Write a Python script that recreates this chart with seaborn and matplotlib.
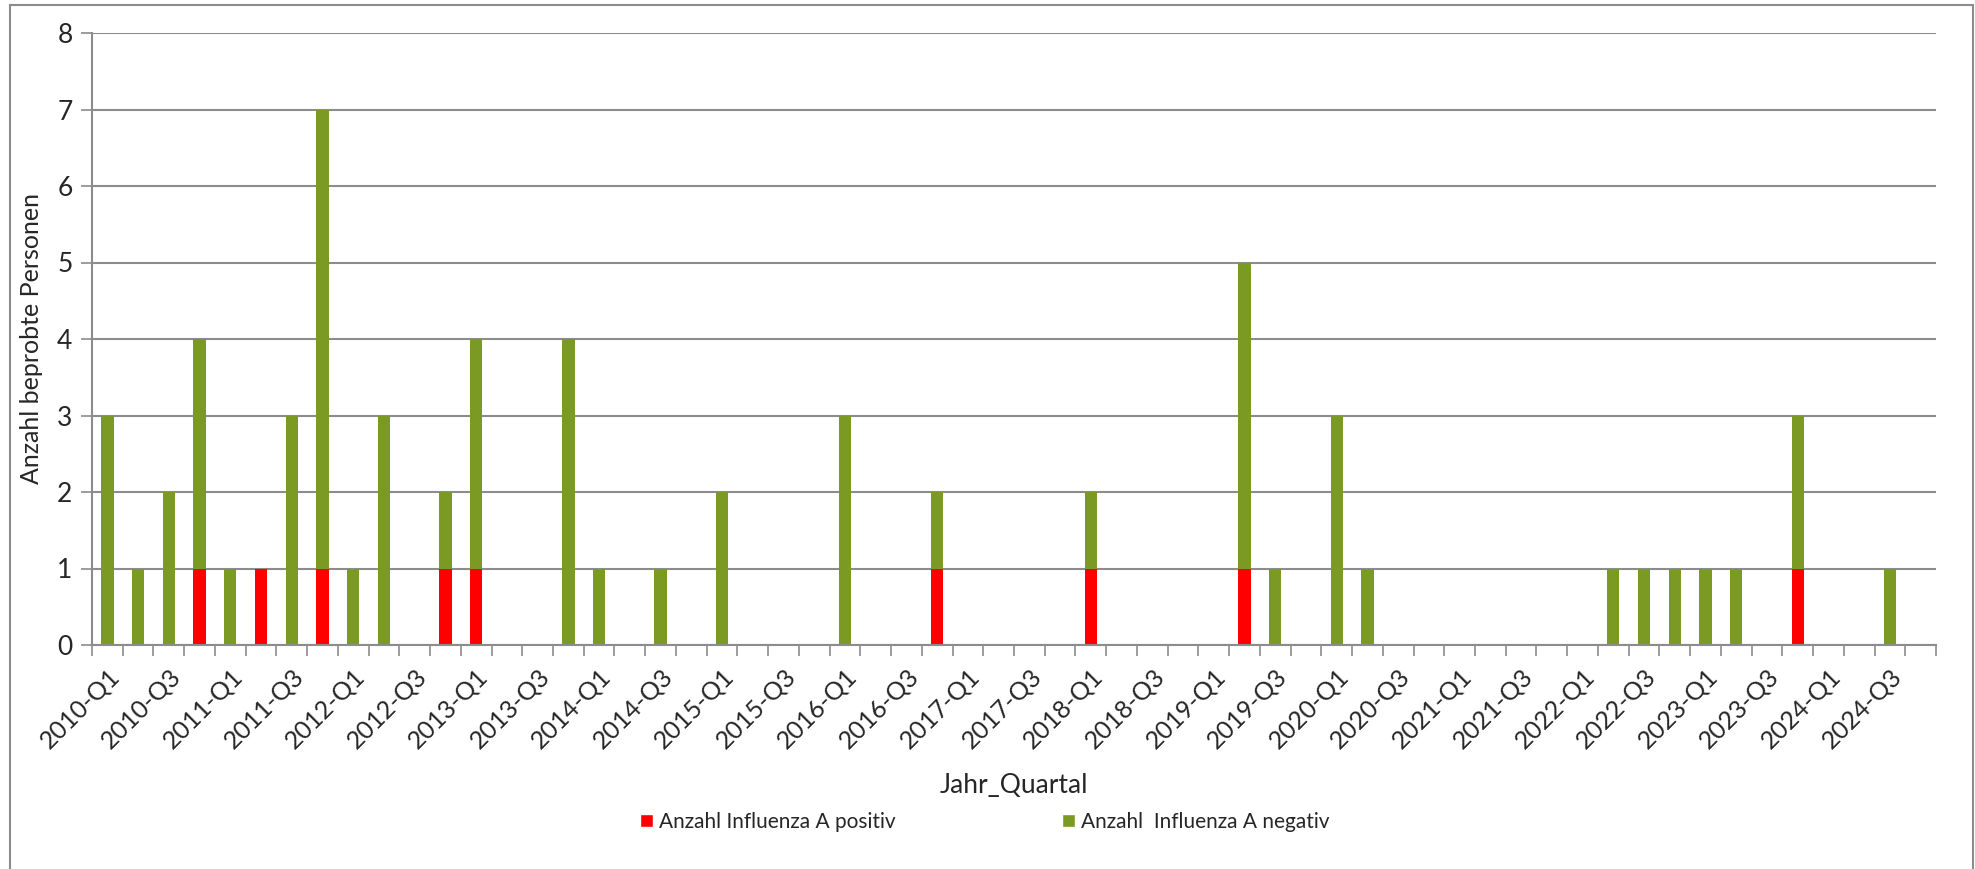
import numpy as np
import pandas as pd
import matplotlib
matplotlib.use("Agg")
import matplotlib.pyplot as plt
from matplotlib.patches import Patch, Rectangle
import seaborn as sns

sns.set_style("white")
plt.rcParams["font.family"] = ["Lato", "DejaVu Sans"]

# Quartale 2010-Q1 .. 2024-Q4
years = list(range(2010, 2025))
quarters = [f"{y}-Q{q}" for y in years for q in range(1, 5)]

positiv = [0, 0, 0, 1, 0, 1, 0, 1, 0, 0, 0, 1, 1, 0, 0, 0, 0, 0, 0, 0,
           0, 0, 0, 0, 0, 0, 0, 1, 0, 0, 0, 0, 1, 0, 0, 0, 0, 1, 0, 0,
           0, 0, 0, 0, 0, 0, 0, 0, 0, 0, 0, 0, 0, 0, 0, 1, 0, 0, 0, 0]
negativ = [3, 1, 2, 3, 1, 0, 3, 6, 1, 3, 0, 1, 3, 0, 0, 4, 1, 0, 1, 0,
           2, 0, 0, 0, 3, 0, 0, 1, 0, 0, 0, 0, 1, 0, 0, 0, 0, 4, 1, 0,
           3, 1, 0, 0, 0, 0, 0, 0, 0, 1, 1, 1, 1, 1, 0, 2, 0, 0, 1, 0]

lab_pos = "Anzahl Influenza A positiv"
lab_neg = "Anzahl  Influenza A negativ"

df = pd.DataFrame({"Jahr_Quartal": quarters, "positiv": positiv, "negativ": negativ})
df["gesamt"] = df["positiv"] + df["negativ"]

RED = "#FF0000"
GREEN = "#7A9A23"
GRID = "#8C8C8C"

fig = plt.figure(figsize=(19.75, 8.69), dpi=100)
ax = fig.add_axes([92 / 1975, 1 - 645 / 869, (1936 - 92) / 1975, (645 - 33) / 869])

# stacked: total in green, positive drawn over it from the base in red
sns.barplot(data=df, x="Jahr_Quartal", y="gesamt", color=GREEN, width=0.4,
            saturation=1, linewidth=0, ax=ax)
sns.barplot(data=df, x="Jahr_Quartal", y="positiv", color=RED, width=0.4,
            saturation=1, linewidth=0, ax=ax)

n = len(quarters)
ax.set_xlim(-0.5, n - 0.5)
ax.set_ylim(0, 8)
ax.set_yticks(range(0, 9))
ax.yaxis.grid(True, color=GRID, linewidth=1.5)
ax.set_axisbelow(True)

ax.set_xticks(range(0, n, 2))
ax.set_xticklabels(quarters[::2], rotation=45, ha="right", rotation_mode="anchor",
                   fontsize=18)
ax.set_xticks(np.arange(-0.5, n, 1), minor=True)
ax.tick_params(axis="x", which="major", length=0, pad=14)
ax.tick_params(axis="x", which="minor", length=8, width=1.2, color=GRID,
               direction="out", bottom=True)
ax.tick_params(axis="y", length=8, width=1.2, color=GRID, direction="out",
               left=True, labelsize=19, pad=6)

for s in ["top", "right"]:
    ax.spines[s].set_visible(False)
for s in ["left", "bottom"]:
    ax.spines[s].set_color(GRID)
    ax.spines[s].set_linewidth(1.5)

ax.set_xlabel("Jahr_Quartal", fontsize=19)
ax.xaxis.set_label_coords(0.5, -(773 - 645) / (645 - 33))
ax.set_ylabel("Anzahl beprobte Personen", fontsize=18)
ax.yaxis.set_label_coords(-(92 - 43) / (1936 - 92), 0.5)

handles = [Patch(facecolor=RED, label=lab_pos), Patch(facecolor=GREEN, label=lab_neg)]
fig.legend(handles=handles, loc="center", bbox_to_anchor=(985 / 1975, 1 - 822 / 869),
           ncol=2, frameon=False, fontsize=15, handlelength=0.6, handleheight=0.6,
           handletextpad=0.3, columnspacing=8)

# chart area border
fig.patches.append(Rectangle((10 / 1975, -0.01), (1973 - 10) / 1975, 1 - 5 / 869 + 0.01,
                             transform=fig.transFigure, fill=False,
                             edgecolor="#8C8C8C", linewidth=1.5))

fig.savefig("out.png", dpi=100)
